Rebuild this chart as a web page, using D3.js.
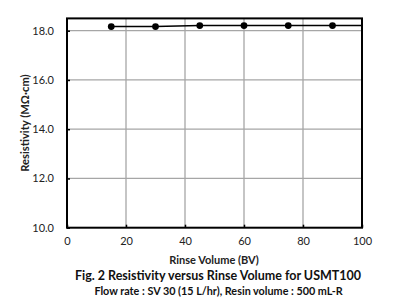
<!DOCTYPE html>
<html><head><meta charset="utf-8">
<script src="https://cdn.jsdelivr.net/npm/d3@7"></script>
<style>body{margin:0;background:#fff;}svg{display:block;font-family:Lato,"Open Sans",sans-serif;}</style>
</head><body>
<svg id="c" width="394" height="302"></svg>
<script>
const rinseVolume = [15, 30, 45, 60, 75, 90, 100];
const resistivity = [18.17, 18.17, 18.21, 18.21, 18.21, 18.21, 18.21];
const showMarker = [true, true, true, true, true, true, false];
const xTicks = [0, 20, 40, 60, 80, 100];
const yTicks = [10, 12, 14, 16, 18];
const xLabel = "Rinse Volume (BV)";
const yLabel = "Resistivity (MΩ·cm)";
const title = "Fig. 2 Resistivity versus Rinse Volume for USMT100";
const subtitle = "Flow rate : SV 30 (15 L/hr), Resin volume : 500 mL-R";

const svg = d3.select("#c");
const L = 67, R = 362, T = 18.4, B = 227.7;
const x = d3.scaleLinear().domain([0, 100]).range([L, R]);
const y = d3.scaleLinear().domain([10, 18.5]).range([B, T]);

// gridlines
svg.append("g").selectAll("line").data(xTicks.slice(1, -1)).join("line")
  .attr("x1", d => x(d)).attr("x2", d => x(d)).attr("y1", T).attr("y2", B)
  .attr("stroke", "#a6a6a6").attr("stroke-width", 1.3);
svg.append("g").selectAll("line").data(yTicks.slice(1)).join("line")
  .attr("x1", L).attr("x2", R).attr("y1", d => y(d)).attr("y2", d => y(d))
  .attr("stroke", "#a6a6a6").attr("stroke-width", 1.3);

// axes
const xAxis = svg.append("g").attr("transform", `translate(0,${B})`)
  .call(d3.axisBottom(x).tickValues(xTicks).tickSize(-3).tickPadding(10).tickFormat(d3.format("d")));
const yAxis = svg.append("g").attr("transform", `translate(${L},0)`)
  .call(d3.axisLeft(y).tickValues(yTicks).tickSize(-3).tickPadding(13).tickFormat(d3.format(".1f")));
[xAxis, yAxis].forEach(a => {
  a.select(".domain").remove();
  a.selectAll(".tick line").attr("stroke", "#000").attr("stroke-width", 1.5);
  a.selectAll("text").attr("font-size", 11).attr("fill", "#222").attr("font-family", "Lato, sans-serif");
});
// frame
svg.append("rect").attr("x", L).attr("y", T).attr("width", R - L).attr("height", B - T)
  .attr("fill", "none").attr("stroke", "#000").attr("stroke-width", 2);

// series
const pts = rinseVolume.map((v, i) => ({x: v, y: resistivity[i], m: showMarker[i]}));
svg.append("path").datum(pts)
  .attr("d", d3.line().x(d => x(d.x)).y(d => y(d.y)))
  .attr("fill", "none").attr("stroke", "#000").attr("stroke-width", 1.5);
svg.append("g").selectAll("circle").data(pts.filter(d => d.m)).join("circle")
  .attr("cx", d => x(d.x)).attr("cy", d => y(d.y)).attr("r", 3.4).attr("fill", "#000");

// labels
svg.append("text").attr("transform", `translate(26,${(T + B) / 2}) rotate(-90)`)
  .attr("text-anchor", "middle").attr("dominant-baseline", "middle")
  .attr("font-size", 11.2).attr("font-weight", "bold").attr("fill", "#222").text(yLabel);
svg.append("text").attr("x", 214).attr("y", 261).attr("text-anchor", "middle").attr("dominant-baseline", "middle")
  .attr("font-size", 11).attr("font-weight", "bold").attr("fill", "#222").text(xLabel);
svg.append("text").attr("x", 218).attr("y", 277).attr("text-anchor", "middle").attr("dominant-baseline", "middle")
  .attr("font-size", 12.5).attr("font-weight", "bold").attr("fill", "#111").text(title);
svg.append("text").attr("x", 218.5).attr("y", 292.5).attr("text-anchor", "middle").attr("dominant-baseline", "middle")
  .attr("font-size", 10.8).attr("font-weight", "bold").attr("fill", "#111").text(subtitle);
</script>
</body></html>
